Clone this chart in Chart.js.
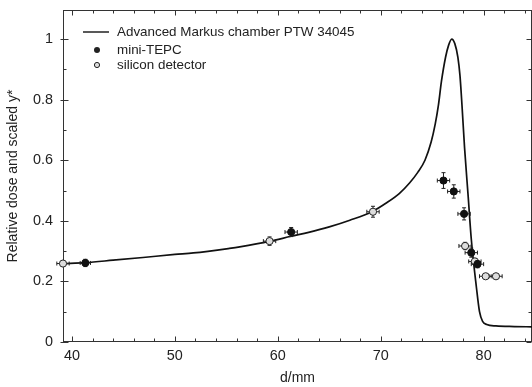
<!DOCTYPE html>
<html>
<head>
<meta charset="utf-8">
<script src="https://cdn.jsdelivr.net/npm/chart.js@4.4.0/dist/chart.umd.min.js"></script>
<style>
  body { margin: 0; background: #fff; }
  canvas { display: block; }
</style>
</head>
<body>
<canvas id="myChart" width="532" height="387"></canvas>
<script>
// Advanced Markus chamber depth dose curve
var markusDepth = [39.13, 41.3, 44, 46.9, 50, 51.8, 55.3, 56.3, 59.2, 61.3, 63, 65, 67, 69.25, 70.5, 71.8, 72.8, 73.6, 74.3, 74.9, 75.3, 75.6, 75.9, 76.3, 76.6, 76.9, 77.2, 77.5, 77.7, 77.9, 78.15, 78.5, 78.8, 79.3, 79.6, 79.9, 80.3, 81.2, 83, 84.7];
var markusDose = [0.259, 0.262, 0.270, 0.279, 0.289, 0.294, 0.309, 0.314, 0.332, 0.349, 0.362, 0.380, 0.402, 0.432, 0.458, 0.490, 0.525, 0.560, 0.600, 0.660, 0.720, 0.780, 0.860, 0.940, 0.980, 1.0, 0.985, 0.940, 0.880, 0.780, 0.640, 0.480, 0.340, 0.180, 0.100, 0.068, 0.058, 0.053, 0.051, 0.050];

// mini-TEPC
var tepcDepth = [41.3, 61.3, 76.1, 77.1, 78.1, 78.8, 79.4];
var tepcY = [0.261, 0.363, 0.533, 0.497, 0.423, 0.295, 0.257];
var tepcErrX = [0.5, 0.6, 0.6, 0.6, 0.6, 0.6, 0.6];
var tepcErrY = [0.012, 0.015, 0.026, 0.022, 0.02, 0.015, 0.012];

// silicon detector
var siliconDepth = [39.13, 59.2, 69.25, 78.2, 79.15, 80.2, 81.2];
var siliconY = [0.259, 0.333, 0.430, 0.317, 0.266, 0.217, 0.217];
var siliconErrX = [0.6, 0.6, 0.6, 0.6, 0.6, 0.6, 0.6];
var siliconErrY = [0.008, 0.014, 0.018, 0.012, 0.01, 0.006, 0.006];

var xTicks = [40, 50, 60, 70, 80];
var yTicks = [0, 0.2, 0.4, 0.6, 0.8, 1];
var xMinor = [40, 42, 44, 46, 48, 50, 52, 54, 56, 58, 60, 62, 64, 66, 68, 70, 72, 74, 76, 78, 80, 82, 84];
var yMinor = [0, 0.1, 0.2, 0.3, 0.4, 0.5, 0.6, 0.7, 0.8, 0.9, 1.0];

var ink = '#222';
var fontName = '"Liberation Sans", Arial, sans-serif';

function pts(xs, ys) {
  return xs.map(function (x, i) { return { x: x, y: ys[i] }; });
}

// error bars, drawn just before each point dataset
var errorBars = {
  id: 'errorBars',
  beforeDatasetDraw: function (chart, args) {
    var ds = chart.data.datasets[args.index];
    if (!ds.errX) return;
    var xs = chart.scales.x, ys = chart.scales.y, c = chart.ctx;
    c.save();
    c.strokeStyle = ink;
    c.lineWidth = 1;
    ds.data.forEach(function (p, i) {
      var px = xs.getPixelForValue(p.x), py = ys.getPixelForValue(p.y);
      var x0 = xs.getPixelForValue(p.x - ds.errX[i]), x1 = xs.getPixelForValue(p.x + ds.errX[i]);
      var y0 = ys.getPixelForValue(p.y - ds.errY[i]), y1 = ys.getPixelForValue(p.y + ds.errY[i]);
      c.beginPath();
      c.moveTo(x0, py); c.lineTo(x1, py);
      c.moveTo(x0, py - 2); c.lineTo(x0, py + 2);
      c.moveTo(x1, py - 2); c.lineTo(x1, py + 2);
      c.moveTo(px, y0); c.lineTo(px, y1);
      c.moveTo(px - 2, y0); c.lineTo(px + 2, y0);
      c.moveTo(px - 2, y1); c.lineTo(px + 2, y1);
      c.stroke();
    });
    c.restore();
  }
};

// box with inward ticks on all four sides
var frame = {
  id: 'frame',
  beforeDatasetsDraw: function (chart) {
    var a = chart.chartArea, c = chart.ctx, xs = chart.scales.x, ys = chart.scales.y;
    var L = a.left + 0.5, R = a.right - 0.5, T = a.top + 0.5, B = a.bottom - 0.5;
    c.save();
    c.strokeStyle = '#333';
    c.lineWidth = 1;
    c.strokeRect(L, T, R - L, B - T);
    c.beginPath();
    xMinor.forEach(function (v) {
      var px = Math.round(xs.getPixelForValue(v)) + 0.5;
      var len = xTicks.indexOf(v) >= 0 ? 5 : 3;
      c.moveTo(px, B); c.lineTo(px, B - len);
      c.moveTo(px, T); c.lineTo(px, T + len);
    });
    yMinor.forEach(function (v) {
      var py = Math.round(ys.getPixelForValue(v)) + 0.5;
      var major = yTicks.some(function (t) { return Math.abs(t - v) < 1e-9; });
      var len = major ? 5 : 3;
      c.moveTo(L - (major ? 3 : 0), py); c.lineTo(L + len, py);
      c.moveTo(R, py); c.lineTo(R - len, py);
    });
    c.stroke();
    c.restore();
  }
};

// legend in the top left corner of the plot
var legendBox = {
  id: 'legendBox',
  afterDraw: function (chart) {
    var c = chart.ctx;
    c.save();
    c.fillStyle = ink;
    c.strokeStyle = ink;
    c.font = '13.4px ' + fontName;
    c.textBaseline = 'middle';
    c.lineWidth = 1.5;
    c.beginPath(); c.moveTo(83, 32); c.lineTo(109, 32); c.stroke();
    c.fillText('Advanced Markus chamber PTW 34045', 117, 32);
    c.beginPath(); c.arc(97, 50, 3, 0, Math.PI * 2); c.fill();
    c.fillText('mini-TEPC', 117, 50);
    c.lineWidth = 1;
    c.fillStyle = '#ddd';
    c.beginPath(); c.arc(97, 65, 2.6, 0, Math.PI * 2); c.fill(); c.stroke();
    c.fillStyle = ink;
    c.fillText('silicon detector', 117, 65);
    c.restore();
  }
};

var ctx = document.getElementById('myChart').getContext('2d');
var chart = new Chart(ctx, {
  type: 'scatter',
  data: {
    datasets: [{
      label: 'mini-TEPC',
      data: pts(tepcDepth, tepcY),
      errX: tepcErrX,
      errY: tepcErrY,
      backgroundColor: '#111',
      borderColor: '#111',
      pointRadius: 3.6,
      borderWidth: 1,
      clip: false,
      order: 1
    }, {
      label: 'silicon detector',
      data: pts(siliconDepth, siliconY),
      errX: siliconErrX,
      errY: siliconErrY,
      backgroundColor: '#ddd',
      borderColor: ink,
      pointRadius: 3.6,
      borderWidth: 1,
      clip: false,
      order: 2
    }, {
      label: 'Advanced Markus chamber PTW 34045',
      type: 'line',
      data: pts(markusDepth, markusDose),
      borderColor: '#111',
      borderWidth: 1.7,
      pointRadius: 0,
      tension: 0.3,
      cubicInterpolationMode: 'monotone',
      fill: false,
      order: 10
    }]
  },
  options: {
    responsive: false,
    animation: false,
    events: [],
    layout: { autoPadding: false, padding: { top: 10, right: 0, bottom: 0, left: 0 } },
    plugins: { legend: { display: false }, tooltip: { enabled: false } },
    scales: {
      x: {
        type: 'linear',
        min: 39.13,
        max: 84.7,
        afterFit: function (s) { s.height = 45; s.paddingLeft = 0; s.paddingRight = 0; },
        afterBuildTicks: function (s) { s.ticks = xTicks.map(function (v) { return { value: v }; }); },
        grid: { display: false, drawTicks: false },
        border: { display: false },
        ticks: { color: ink, padding: 5, maxRotation: 0, font: { family: fontName, size: 14.4 } },
        title: { display: true, text: 'd/mm', color: ink, padding: 0, font: { family: fontName, size: 14 } }
      },
      y: {
        min: 0,
        max: 1.096,
        afterFit: function (s) { s.width = 63; s.paddingTop = 0; s.paddingBottom = 0; },
        afterBuildTicks: function (s) { s.ticks = yTicks.map(function (v) { return { value: v }; }); },
        grid: { display: false, drawTicks: false },
        border: { display: false },
        ticks: {
          color: ink,
          padding: 10,
          font: { family: fontName, size: 14.4 },
          callback: function (v) { return (v === 0 || v === 1) ? String(v) : v.toFixed(1); }
        },
        title: { display: true, text: 'Relative dose and scaled y*', color: ink, padding: { top: 5, bottom: 0 }, font: { family: fontName, size: 14 } }
      }
    }
  },
  plugins: [errorBars, frame, legendBox]
});
</script>
</body>
</html>
